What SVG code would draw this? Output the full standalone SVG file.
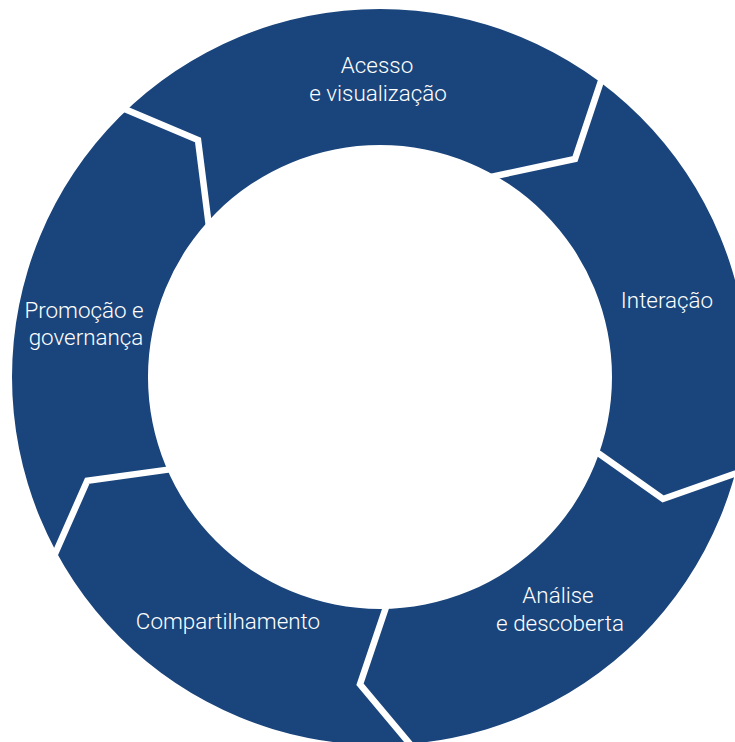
<svg xmlns="http://www.w3.org/2000/svg" width="735" height="742" viewBox="0 0 735 742">
  <style>
    .seg { fill: #1A457C; }
    .sep { fill: none; stroke: #FFFFFF; stroke-width: 6.5; stroke-linejoin: miter; stroke-miterlimit: 10; }
    .lbl { fill: #FFFFFF; font-family: Roboto, "Liberation Sans", sans-serif; font-weight: 300; font-size: 22.4px; text-anchor: middle; }
  </style>
  <defs>
    <clipPath id="ring">
      <path clip-rule="evenodd" d="M 12 377 A 368 368 0 1 0 748 377 A 368 368 0 1 0 12 377 Z M 148 377 A 232 232 0 1 0 612 377 A 232 232 0 1 0 148 377 Z"/>
    </clipPath>
  </defs>
  <rect width="735" height="742" fill="#FFFFFF"/>
  <g clip-path="url(#ring)">
    <g id="acesso">
      <polygon class="seg" points="380,377 211.5,246.7 198,140 91.5,95 380,-300 612.5,46.5 575,159 471,181.1"/>
    </g>
    <g id="interacao">
      <polygon class="seg" points="380,377 471,181.1 575,159 612.5,46.5 1000,250 769.5,461.5 663,499 591.5,448.4"/>
    </g>
    <g id="analise">
      <polygon class="seg" points="380,377 591.5,448.4 663,499 769.5,461.5 800,850 430,767.9 360,684.3 387,604.2"/>
    </g>
    <g id="compartilhamento">
      <polygon class="seg" points="380,377 387,604.2 360,684.3 430,767.9 100,900 40.3,587.2 87.3,480.7 173.5,468.9"/>
    </g>
    <g id="promocao">
      <polygon class="seg" points="380,377 173.5,468.9 87.3,480.7 40.3,587.2 -250,350 91.5,95 198,140 211.5,246.7"/>
    </g>
  </g>
  <g id="connectors">
    <polyline class="sep" points="91.5,95 198,140 211.5,246.7"/>
    <polyline class="sep" points="612.5,46.5 575,159 471,181.1"/>
    <polyline class="sep" points="769.5,461.5 663,499 591.5,448.4"/>
    <polyline class="sep" points="430,767.9 360,684.3 387,604.2"/>
    <polyline class="sep" points="40.3,587.2 87.3,480.7 173.5,468.9"/>
  </g>
  <g id="labels">
    <text class="lbl" x="377" y="73">Acesso</text>
    <text class="lbl" x="378" y="101">e visualização</text>
    <text class="lbl" x="667" y="308">Interação</text>
    <text class="lbl" x="558" y="603">Análise</text>
    <text class="lbl" x="560" y="631">e descoberta</text>
    <text class="lbl" x="228" y="629">Compartilhamento</text>
    <text class="lbl" x="84" y="318">Promoção e</text>
    <text class="lbl" x="86" y="345">governança</text>
  </g>
</svg>
